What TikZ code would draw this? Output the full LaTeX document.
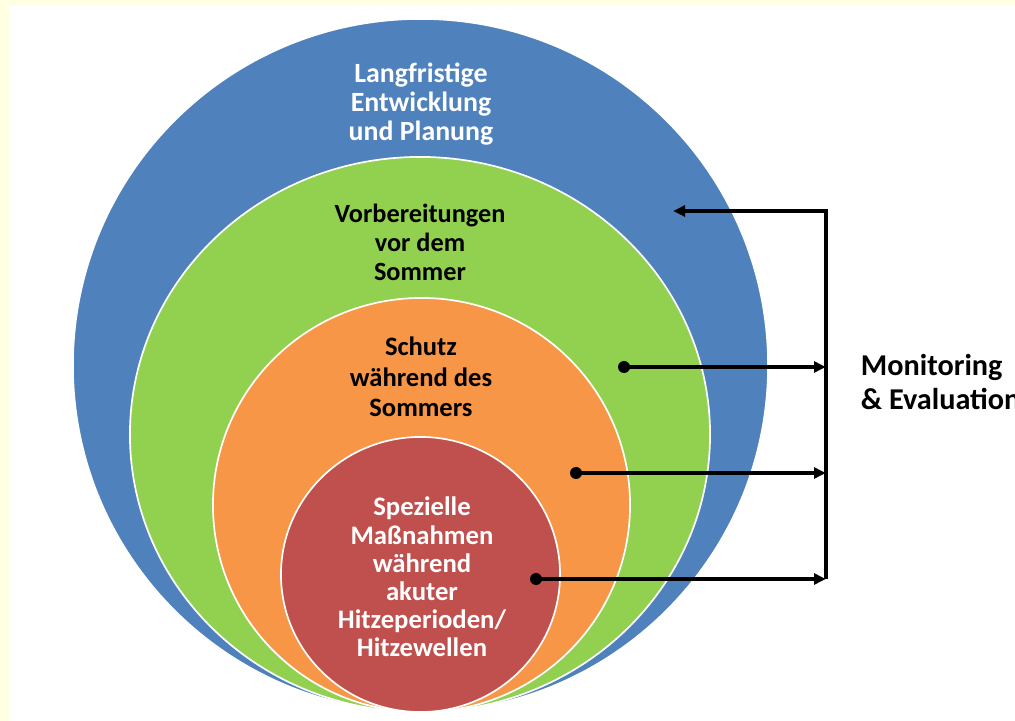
\documentclass[tikz,border=0pt]{standalone}
\usepackage{fontspec}
\setmainfont{Carlito}
\usetikzlibrary{arrows.meta,shapes.geometric}
\definecolor{frameyellow}{HTML}{FFFFE4}
\definecolor{planblue}{HTML}{4F81BD}
\definecolor{prepgreen}{HTML}{92D050}
\definecolor{summerorange}{HTML}{F79646}
\definecolor{heatred}{HTML}{C0504D}
\begin{document}
\begin{tikzpicture}[x=0.025cm, y=-0.025cm,
    % Styles
    ring/.style={% the nested circles
        ellipse,
        draw=white,
        line width=1.2pt,
        inner sep=0pt,
        },
    ringtext/.style={% text inside the circles
        align=center,
        font=\bfseries\fontsize{18.7}{20.6}\selectfont,
        },
    dot/.style={% start of a feedback arrow
        circle,
        fill=black,
        inner sep=0pt,
        minimum size=0.3cm,
        },
    link/.style={% feedback arrows
        line width=2.4pt,
        -{Triangle[length=0.3cm,width=0.27cm]},
        },
    ]

    % Background with the frame
    \fill[frameyellow] (0,0) rectangle (1015,721);
    \fill[white] (9,6) rectangle (1015,721);
    \useasboundingbox (0,0) rectangle (1015,721);

    % Draw the circles
    \node [ring, fill=planblue, minimum width=17.375cm, minimum height=17.325cm] (longterm) at (420.5,365.5) {};
    \node [ring, fill=prepgreen, minimum width=14.5cm, minimum height=13.875cm] (prep) at (420,434.5) {};
    \node [ring, fill=summerorange, minimum width=10.425cm, minimum height=10.35cm] (summer) at (421.5,505) {};
    \node [ring, fill=heatred, minimum width=6.975cm, minimum height=6.875cm] (heat) at (420.5,574.5) {};

    % Texts of the circles
    \node [ringtext, text=white, font=\bfseries\fontsize{19.8}{20.6}\selectfont] (longtermtxt) at (421,104) {Langfristige\\Entwicklung\\und Planung};
    \node [ringtext] (preptxt) at (420,242) {Vorbereitungen\\vor dem\\Sommer};
    \node [ringtext, font=\bfseries\fontsize{18.9}{21.5}\selectfont] (summertxt) at (421,377) {Schutz\\während des\\Sommers};
    \node [ringtext, text=white, font=\bfseries\fontsize{19}{20}\selectfont] (heattxt) at (422,577) {Spezielle\\Maßnahmen\\während\\akuter\\Hitzeperioden/\\Hitzewellen};

    % Monitoring
    \node [anchor=west, align=left, font=\bfseries\fontsize{21.5}{24.8}\selectfont] (monitor) at (856,382) {Monitoring\\\& Evaluation};

    % Dots and bracket points
    \node [dot] (prepdot) at (624,367) {};
    \node [dot] (summerdot) at (576,473) {};
    \node [dot] (heatdot) at (536,579) {};
    \coordinate (brtop) at (826,211);
    \coordinate (brbot) at (826,579);
    \coordinate (backtip) at (673,211);

    % Draw Arrows
    \draw [link] (brbot) -- (brtop) -- (backtip);
    \draw [link] (prepdot.center) -- (prepdot -| brtop);
    \draw [link] (summerdot.center) -- (summerdot -| brtop);
    \draw [link] (heatdot.center) -- (brbot);

\end{tikzpicture}
\end{document}
